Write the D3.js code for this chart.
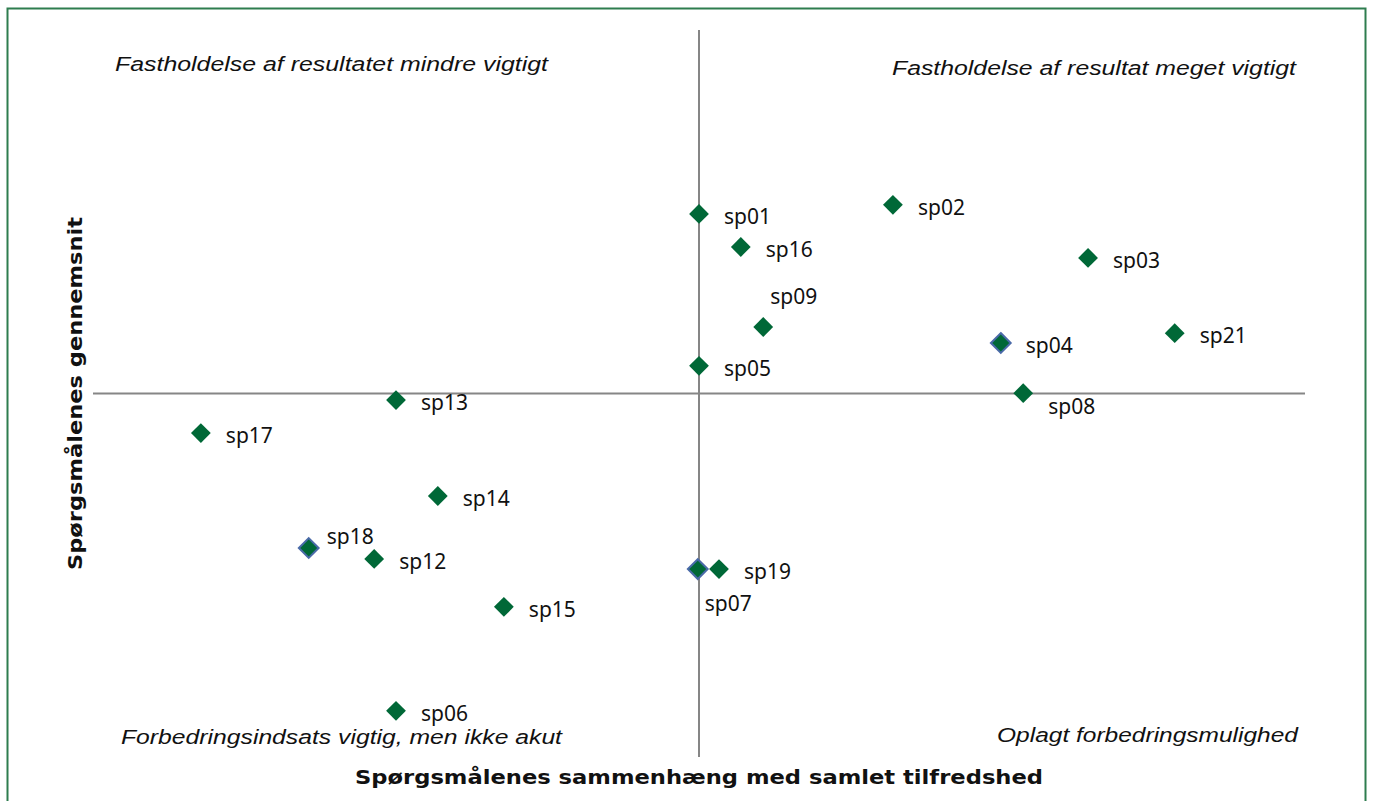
<!DOCTYPE html>
<html>
<head>
<meta charset="utf-8">
<script src="https://cdn.jsdelivr.net/npm/d3@7"></script>
<style>
  body { margin: 0; background: #fff; }
  svg { display: block; }
</style>
</head>
<body>
<svg id="chart" width="1373" height="801"></svg>
<script>
// question ids and their position (x = correlation with overall satisfaction, y = average)
const questions = ["sp01", "sp02", "sp16", "sp03", "sp09", "sp04", "sp21", "sp05", "sp08",
    "sp13", "sp17", "sp14", "sp18", "sp12", "sp19", "sp07", "sp15", "sp06"];
const xValues = [0.000, 0.320, 0.069, 0.642, 0.106, 0.498, 0.785, 0.000, 0.535,
    -0.500, -0.822, -0.431, -0.644, -0.536, 0.033, -0.002, -0.322, -0.500];
const yValues = [0.494, 0.519, 0.403, 0.373, 0.183, 0.139, 0.166, 0.076, 0.001,
    -0.018, -0.109, -0.282, -0.425, -0.455, -0.483, -0.483, -0.587, -0.873];
// questions drawn with a blue outline
const outlined = ["sp04", "sp18", "sp07"];
// label placement: right (default), above, below
const labelPos = { sp09: "above", sp08: "belowRight", sp18: "aboveRight", sp07: "below" };

const quadrantLabels = [
    "Fastholdelse af resultatet mindre vigtigt",
    "Fastholdelse af resultat meget vigtigt",
    "Forbedringsindsats vigtig, men ikke akut",
    "Oplagt forbedringsmulighed"
];
const xTitle = "Spørgsmålenes sammenhæng med samlet tilfredshed";
const yTitle = "Spørgsmålenes gennemsnit";

const svg = d3.select("#chart");

// frame
svg.append("rect")
    .attr("x", 7.5).attr("y", 8.5)
    .attr("width", 1358).attr("height", 800)
    .attr("fill", "none")
    .attr("stroke", "#2e7d4f")
    .attr("stroke-width", 2);

const x = d3.scaleLinear().domain([-1, 1]).range([93, 1305]);
const y = d3.scaleLinear().domain([-1, 1]).range([757, 30]);

// crossing axes
svg.append("line")
    .attr("x1", x(-1)).attr("x2", x(1))
    .attr("y1", y(0)).attr("y2", y(0))
    .attr("stroke", "#868686").attr("stroke-width", 2);
svg.append("line")
    .attr("x1", x(0)).attr("x2", x(0))
    .attr("y1", y(1)).attr("y2", y(-1))
    .attr("stroke", "#868686").attr("stroke-width", 2);

// quadrant captions
const italic = { family: "'Liberation Sans', Arial, sans-serif", size: 20 };
const captions = [
    { text: quadrantLabels[0], x: 115, y: 71, len: 433 },
    { text: quadrantLabels[1], x: 892, y: 75, len: 404 },
    { text: quadrantLabels[2], x: 121, y: 744, len: 441 },
    { text: quadrantLabels[3], x: 997, y: 742, len: 301 }
];
svg.selectAll("text.caption")
    .data(captions)
    .enter()
    .append("text")
    .attr("class", "caption")
    .attr("x", (d) => d.x)
    .attr("y", (d) => d.y)
    .attr("textLength", (d) => d.len)
    .attr("lengthAdjust", "spacingAndGlyphs")
    .style("font-family", italic.family)
    .style("font-size", italic.size + "px")
    .style("font-style", "italic")
    .attr("fill", "#111")
    .text((d) => d.text);

// axis titles
svg.append("text")
    .attr("x", 355).attr("y", 784)
    .attr("textLength", 688)
    .attr("lengthAdjust", "spacingAndGlyphs")
    .style("font-family", "'DejaVu Sans', Verdana, sans-serif")
    .style("font-size", "19px")
    .style("font-weight", "bold")
    .attr("fill", "#111")
    .text(xTitle);

svg.append("text")
    .attr("transform", "translate(82,570) rotate(-90)")
    .attr("textLength", 353)
    .attr("lengthAdjust", "spacingAndGlyphs")
    .style("font-family", "'DejaVu Sans', Verdana, sans-serif")
    .style("font-size", "19px")
    .style("font-weight", "bold")
    .attr("fill", "#111")
    .text(yTitle);

// points
const points = questions.map((q, i) => ({ id: q, x: xValues[i], y: yValues[i] }));

svg.selectAll("path.point")
    .data(points)
    .enter()
    .append("path")
    .attr("class", "point")
    .attr("d", d3.symbol().type(d3.symbolDiamond2).size(250))
    .attr("transform", (d) => `translate(${x(d.x)},${y(d.y)})`)
    .attr("fill", "#006837")
    .attr("stroke", (d) => (outlined.includes(d.id) ? "#4a6aa8" : "none"))
    .attr("stroke-width", 2);

const labelOffset = (d) => {
    const pos = labelPos[d.id];
    if (pos === "above") return [7, -23];
    if (pos === "belowRight") return [25, 21];
    if (pos === "aboveRight") return [18, -4];
    if (pos === "below") return [7, 42];
    return [25, 10];
};

svg.selectAll("text.label")
    .data(points)
    .enter()
    .append("text")
    .attr("class", "label")
    .attr("x", (d) => x(d.x) + labelOffset(d)[0])
    .attr("y", (d) => y(d.y) + labelOffset(d)[1])
    .style("font-family", "'Noto Sans', 'Open Sans', sans-serif")
    .style("font-size", "21px")
    .attr("fill", "#111")
    .text((d) => d.id);
</script>
</body>
</html>
